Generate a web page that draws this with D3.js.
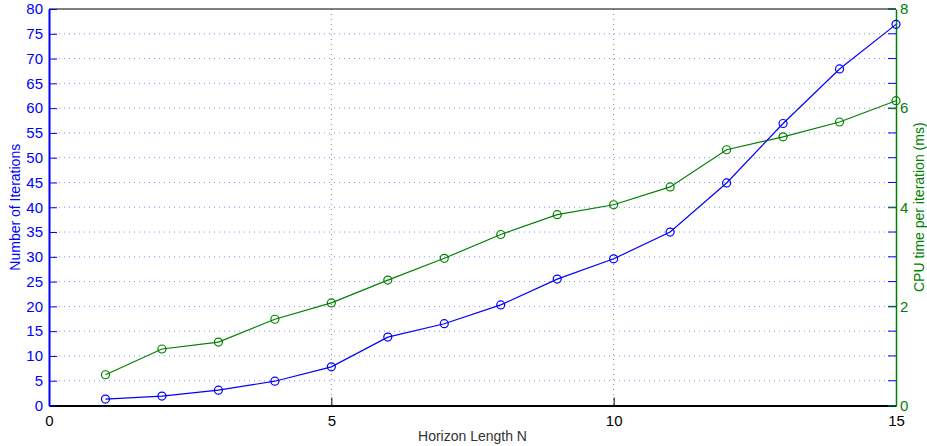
<!DOCTYPE html>
<html><head><meta charset="utf-8">
<script src="https://cdn.jsdelivr.net/npm/d3@7"></script>
<style>body{margin:0;background:#fff}svg{display:block;font-family:"Liberation Sans",Arial,sans-serif}</style>
</head><body><svg id="c" width="927" height="446"></svg>
<script>
const horizonN = [1,2,3,4,5,6,7,8,9,10,11,12,13,14,15];
const iterations = [1.3,1.9,3.1,4.9,7.8,13.8,16.5,20.3,25.5,29.6,35.0,44.9,56.9,67.9,76.9];
const cpuTime = [0.62,1.14,1.28,1.74,2.07,2.53,2.97,3.45,3.85,4.05,4.41,5.16,5.42,5.72,6.15];
const xTicks = [0,5,10,15];
const leftTicks = [0,5,10,15,20,25,30,35,40,45,50,55,60,65,70,75,80];
const rightTicks = [0,2,4,6,8];

const blue = "#0000ff", green = "#008000";
const m = {l:49, r:896, t:9, b:405.5};
const svg = d3.select("#c");
const x = d3.scaleLinear().domain([0,15]).range([m.l,m.r]);
const yL = d3.scaleLinear().domain([0,80]).range([m.b,m.t]);
const yR = d3.scaleLinear().domain([0,8]).range([m.b,m.t]);

// horizontal grid
svg.append("g").selectAll("line").data(leftTicks.filter(d=>d>0&&d<80)).join("line")
  .attr("x1",m.l).attr("x2",m.r).attr("y1",d=>yL(d)).attr("y2",d=>yL(d))
  .attr("stroke","#8c8cff").attr("stroke-width",1).attr("stroke-dasharray","1,4");
// vertical grid
svg.append("g").selectAll("line").data(xTicks.filter(d=>d>0&&d<15)).join("line")
  .attr("x1",d=>x(d)).attr("x2",d=>x(d)).attr("y1",m.t).attr("y2",m.b)
  .attr("stroke","#888").attr("stroke-width",1).attr("stroke-dasharray","1,4");

// top border
svg.append("line").attr("x1",m.l).attr("x2",m.r).attr("y1",m.t).attr("y2",m.t).attr("stroke","#000");

// bottom axis
const xa = svg.append("g").attr("transform",`translate(0,${m.b})`)
  .call(d3.axisBottom(x).tickValues(xTicks).tickSizeInner(-8).tickSizeOuter(0).tickPadding(10));
xa.select(".domain").attr("stroke","#000").attr("stroke-width",2);
xa.selectAll("line").attr("stroke","#000");
xa.selectAll("text").attr("font-size",15).attr("fill","#000").attr("font-family","Liberation Sans, Arial");

// left axis
const la = svg.append("g").attr("transform",`translate(${m.l},0)`)
  .call(d3.axisLeft(yL).tickValues(leftTicks).tickSizeInner(-8).tickSizeOuter(0).tickPadding(6));
la.select(".domain").attr("stroke",blue).attr("stroke-width",2);
la.selectAll("line").attr("stroke",blue);
la.selectAll("text").attr("font-size",15).attr("fill",blue).attr("font-family","Liberation Sans, Arial");

// right side: blue ticks mirrored
svg.append("g").selectAll("line").data(leftTicks).join("line")
  .attr("x1",m.r-8).attr("x2",m.r).attr("y1",d=>yL(d)).attr("y2",d=>yL(d)).attr("stroke",blue);

// right axis
const ra = svg.append("g").attr("transform",`translate(${m.r},0)`)
  .call(d3.axisRight(yR).tickValues(rightTicks).tickSizeInner(-8).tickSizeOuter(0).tickPadding(4));
ra.select(".domain").attr("stroke",green).attr("stroke-width",1.5);
ra.selectAll("line").attr("stroke",green);
ra.selectAll("text").attr("font-size",15).attr("fill",green).attr("font-family","Liberation Sans, Arial");

// lines
const lineL = d3.line().x((d,i)=>x(horizonN[i])).y(d=>yL(d));
const lineR = d3.line().x((d,i)=>x(horizonN[i])).y(d=>yR(d));
svg.append("path").datum(cpuTime).attr("d",lineR).attr("fill","none").attr("stroke",green).attr("stroke-width",1.2);
svg.append("path").datum(iterations).attr("d",lineL).attr("fill","none").attr("stroke",blue).attr("stroke-width",1.2);
svg.append("g").selectAll("circle").data(cpuTime).join("circle")
  .attr("cx",(d,i)=>x(horizonN[i])).attr("cy",d=>yR(d)).attr("r",4)
  .attr("fill","none").attr("stroke",green).attr("stroke-width",1.2);
svg.append("g").selectAll("circle").data(iterations).join("circle")
  .attr("cx",(d,i)=>x(horizonN[i])).attr("cy",d=>yL(d)).attr("r",4)
  .attr("fill","none").attr("stroke",blue).attr("stroke-width",1.2);

// titles
svg.append("text").attr("x",(m.l+m.r)/2).attr("y",441).attr("text-anchor","middle")
  .attr("font-size",14).attr("fill","#333").text("Horizon Length N");
svg.append("text").attr("transform",`translate(20,${(m.t+m.b)/2}) rotate(-90)`).attr("text-anchor","middle")
  .attr("font-size",14).attr("fill",blue).text("Number of Iterations");
svg.append("text").attr("transform",`translate(924,${(m.t+m.b)/2}) rotate(-90)`).attr("text-anchor","middle")
  .attr("font-size",14).attr("fill",green).text("CPU time per iteration (ms)");
</script></body></html>
